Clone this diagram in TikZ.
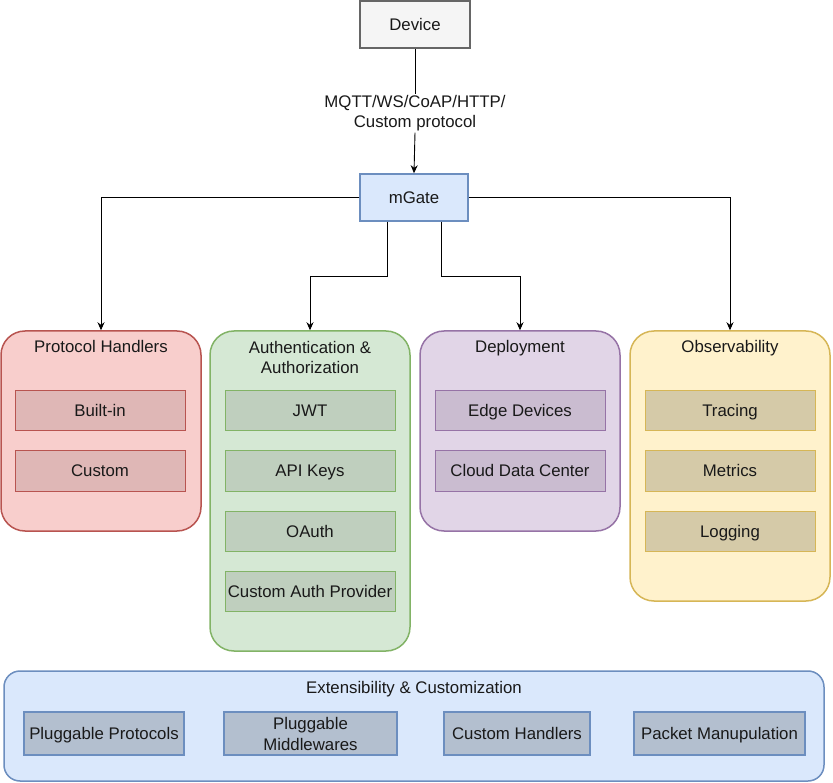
\documentclass[tikz,border=0pt]{standalone}
\usepackage{fontspec}
\setmainfont{Liberation Sans}
\usetikzlibrary{arrows.meta}
\definecolor{devfill}{HTML}{F5F5F5}
\definecolor{devline}{HTML}{666666}
\definecolor{bluefill}{HTML}{DAE8FC}
\definecolor{blueline}{HTML}{6C8EBF}
\definecolor{bluesub}{HTML}{B3BFCF}
\definecolor{redfill}{HTML}{F8CECC}
\definecolor{redline}{HTML}{B85450}
\definecolor{redsub}{HTML}{DFB7B6}
\definecolor{greenfill}{HTML}{D5E8D4}
\definecolor{greenline}{HTML}{82B366}
\definecolor{greensub}{HTML}{BFCFBE}
\definecolor{purplefill}{HTML}{E1D5E7}
\definecolor{purpleline}{HTML}{9673A6}
\definecolor{purplesub}{HTML}{CABCD0}
\definecolor{yellowfill}{HTML}{FFF2CC}
\definecolor{yellowline}{HTML}{D6B656}
\definecolor{yellowsub}{HTML}{D5CAA8}
\tikzset{
  txt/.style={font=\fontsize{16.8}{20}\selectfont, text=black!90},
  single/.style={text height=12pt, text depth=0pt},
  box/.style={txt, draw, rectangle, line width=1.3pt, inner sep=0pt},
  column/.style={draw, rectangle, rounded corners=24pt, line width=1.5pt, inner sep=0pt},
  subbox/.style={box, single, minimum width=170pt, minimum height=40pt, line width=1pt},
  extsub/.style={box, minimum height=43pt, align=center, draw=blueline, fill=bluesub, line width=1.8pt},
  title/.style={txt, align=center},
  arr/.style={draw=black, line width=0.9pt, -{Stealth[length=8pt,width=7pt]}},
  ln/.style={draw=black, line width=0.9pt}
}
\begin{document}
\begin{tikzpicture}[x=1pt,y=-1pt]
\useasboundingbox (0,0) rectangle (833,783);
% top
\node[box, single, minimum width=110pt, minimum height=47pt, fill=devfill, draw=devline, line width=2pt] (device) at (415,24.5) {Device};
\node[box, single, minimum width=108pt, minimum height=47pt, fill=bluefill, draw=blueline, line width=1.5pt] (mgate) at (414,197.5) {mGate};
\node[title, fill=white, inner sep=1pt] (proto) at (415,113.5) {MQTT/WS/CoAP/HTTP/\\Custom protocol};
\draw[ln] (device.south) -- (proto.north);
\draw[arr] (proto.south) -- (mgate.north);
% columns
\node[column, minimum width=200pt, minimum height=200pt, fill=redfill, draw=redline] (ph) at (101,431) {};
\node[column, minimum width=200pt, minimum height=320pt, fill=greenfill, draw=greenline] (auth) at (310,491) {};
\node[column, minimum width=200pt, minimum height=200pt, fill=purplefill, draw=purpleline] (dep) at (520,431) {};
\node[column, minimum width=200pt, minimum height=270pt, fill=yellowfill, draw=yellowline] (obs) at (730,466) {};
\node[title, single] (phT) at (101,347) {Protocol Handlers};
\node[title] (authT) at (310,357) {Authentication \&\\Authorization};
\node[title, single] (depT) at (520,347) {Deployment};
\node[title, single] (obsT) at (730,347) {Observability};
% subs
\node[subbox, fill=redsub, draw=redline] (builtin) at (100,411) {Built-in};
\node[subbox, fill=redsub, draw=redline] (custom) at (100,471) {Custom};
\node[subbox, fill=greensub, draw=greenline] (jwt) at (310,411) {JWT};
\node[subbox, fill=greensub, draw=greenline] (api) at (310,471) {API Keys};
\node[subbox, fill=greensub, draw=greenline] (oauth) at (310,531) {OAuth};
\node[subbox, fill=greensub, draw=greenline] (cap) at (310,591) {Custom Auth Provider};
\node[subbox, fill=purplesub, draw=purpleline] (edge) at (520,411) {Edge Devices};
\node[subbox, fill=purplesub, draw=purpleline] (cloud) at (520,471) {Cloud Data Center};
\node[subbox, fill=yellowsub, draw=yellowline] (tracing) at (730,411) {Tracing};
\node[subbox, fill=yellowsub, draw=yellowline] (metrics) at (730,471) {Metrics};
\node[subbox, fill=yellowsub, draw=yellowline] (logging) at (730,531) {Logging};
% extensibility
\node[column, rounded corners=16pt, minimum width=820pt, minimum height=110pt, fill=bluefill, draw=blueline] (ext) at (414,726) {};
\node[title, single] (extT) at (414,687) {Extensibility \& Customization};
\node[extsub, single, minimum width=160pt] (pp) at (104,733.5) {Pluggable Protocols};
\node[extsub, minimum width=173pt, font=\fontsize{16.8}{21}\selectfont] (pm) at (310.5,733.5) {Pluggable\\Middlewares};
\node[extsub, single, minimum width=146pt] (ch) at (517,733.5) {Custom Handlers};
\node[extsub, single, minimum width=171pt] (pk) at (719.5,733.5) {Packet Manupulation};
% connectors
\coordinate (j1) at (310,276);
\coordinate (j2) at (520,276);
\draw[arr] (mgate.west) -| (ph.north);
\draw[arr] (mgate.east) -| (obs.north);
\draw[ln] ([xshift=-27pt]mgate.south) |- (j1);
\draw[arr] (j1) -- (auth.north);
\draw[ln] ([xshift=27pt]mgate.south) |- (j2);
\draw[arr] (j2) -- (dep.north);
\end{tikzpicture}
\end{document}
